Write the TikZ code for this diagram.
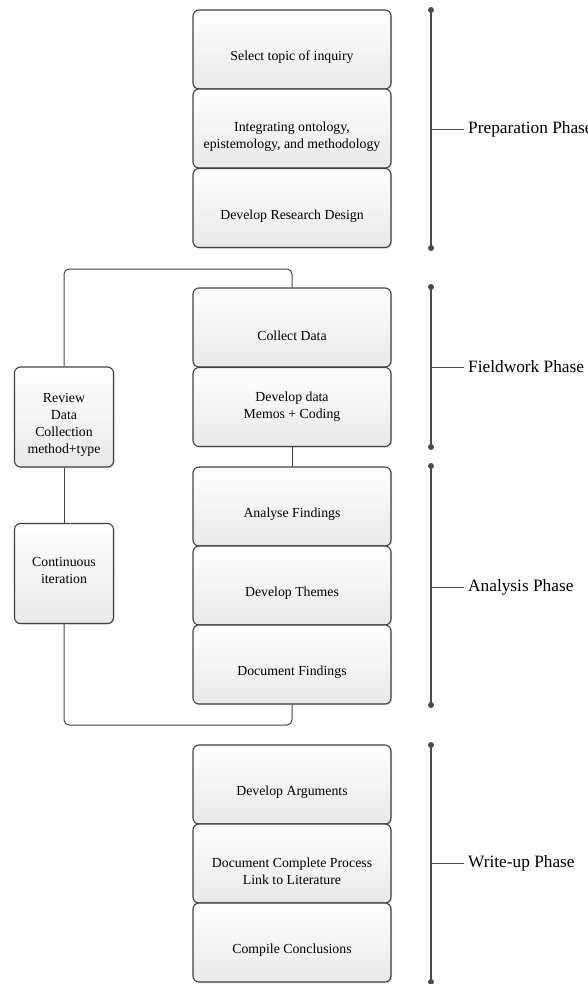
\documentclass[tikz,border=0pt]{standalone}
\usepackage{fontspec}
\setmainfont{Liberation Serif}
\usetikzlibrary{shadows}
\definecolor{edge}{HTML}{404040}
\definecolor{phcol}{HTML}{4A4A4A}
\tikzset{
  boxtext/.style={font=\rmfamily\fontsize{13.8}{17}\selectfont, align=center, inner sep=0pt, text=black},
  mbox/.style={draw=edge, line width=1.1pt, rounded corners=6pt, top color=white, bottom color=black!9,
    minimum width=198pt, minimum height=79pt, inner sep=0pt,
    drop shadow={shadow xshift=1.2pt, shadow yshift=-1.2pt, opacity=0.3, fill=black!45}},
  sbox/.style={mbox, minimum width=99pt, minimum height=100pt},
  txt/.style={label={[boxtext, yshift=-8pt]center:{#1}}},
  txtn/.style={label={[boxtext]center:{#1}}},
  txtu/.style={label={[boxtext, yshift=3pt]center:{#1}}},
  conn/.style={draw=edge, line width=1pt, rounded corners=5pt},
  phline/.style={draw=phcol, line width=1.1pt},
  tick/.style={draw=phcol, line width=0.9pt},
  dot/.style={circle, fill=phcol, inner sep=0pt, minimum size=6pt},
  phlabel/.style={font=\rmfamily\fontsize{17.3}{20}\selectfont, anchor=west, inner sep=4pt}
}
\begin{document}
\begin{tikzpicture}[x=1pt, y=-1pt]
\useasboundingbox (0,0) rectangle (588,984);
% coordinates for the iteration loop
\coordinate (lt) at (64,269);
\coordinate (lb) at (64,725);

% left boxes
\node[sbox, txt={Review\\Data\\Collection\\method+type}] (rev) at (64,417) {};
\node[sbox, txtu={Continuous\\iteration}] (cont) at (64,573.5) {};

% Preparation
\node[mbox, txt={Select topic of inquiry}] (n1) at (292,49.5) {};
\node[mbox, txt={Integrating ontology,\\epistemology, and methodology}] (n2) at (292,128.5) {};
\node[mbox, txt={Develop Research Design}] (n3) at (292,208) {};
% Fieldwork
\node[mbox, txt={Collect Data}] (n4) at (292,327.5) {};
\node[mbox, txtn={Develop data\\Memos + Coding}] (n5) at (292,407) {};
% Analysis
\node[mbox, txt={Analyse Findings}] (n6) at (292,506.5) {};
\node[mbox, txt={Develop Themes}] (n7) at (292,585.5) {};
\node[mbox, txt={Document Findings}] (n8) at (292,664.5) {};
% Write-up
\node[mbox, txt={Develop Arguments}] (n9) at (292,784.5) {};
\node[mbox, txt={Document Complete Process\\Link to Literature}] (n10) at (292,863.5) {};
\node[mbox, txt={Compile Conclusions}] (n11) at (292,942.5) {};

\draw[conn] (n4.north) |- (lt) -- (rev.north);
\draw[conn] (rev.south) -- (cont.north);
\draw[conn] (cont.south) -- (lb) -| (n8.south);
\draw[conn] (n5.south) -- (n6.north);

% Phase brackets
\node[dot] (d1a) at (431,10) {};
\node[dot] (d1b) at (431,248) {};
\node[phlabel] (l1) at (464,129) {Preparation Phase};
\draw[phline] (d1a.center) -- (d1b.center);
\draw[tick] (d1a |- l1.west) -- (l1.west);

\node[dot] (d2a) at (431,287) {};
\node[dot] (d2b) at (431,447) {};
\node[phlabel] (l2) at (464,367) {Fieldwork Phase};
\draw[phline] (d2a.center) -- (d2b.center);
\draw[tick] (d2a |- l2.west) -- (l2.west);

\node[dot] (d3a) at (431,466) {};
\node[dot] (d3b) at (431,705) {};
\node[phlabel] (l3) at (464,587) {Analysis Phase};
\draw[phline] (d3a.center) -- (d3b.center);
\draw[tick] (d3a |- l3.west) -- (l3.west);

\node[dot] (d4a) at (431,745) {};
\node[dot] (d4b) at (431,982) {};
\node[phlabel] (l4) at (464,863) {Write-up Phase};
\draw[phline] (d4a.center) -- (d4b.center);
\draw[tick] (d4a |- l4.west) -- (l4.west);
\end{tikzpicture}
\end{document}
